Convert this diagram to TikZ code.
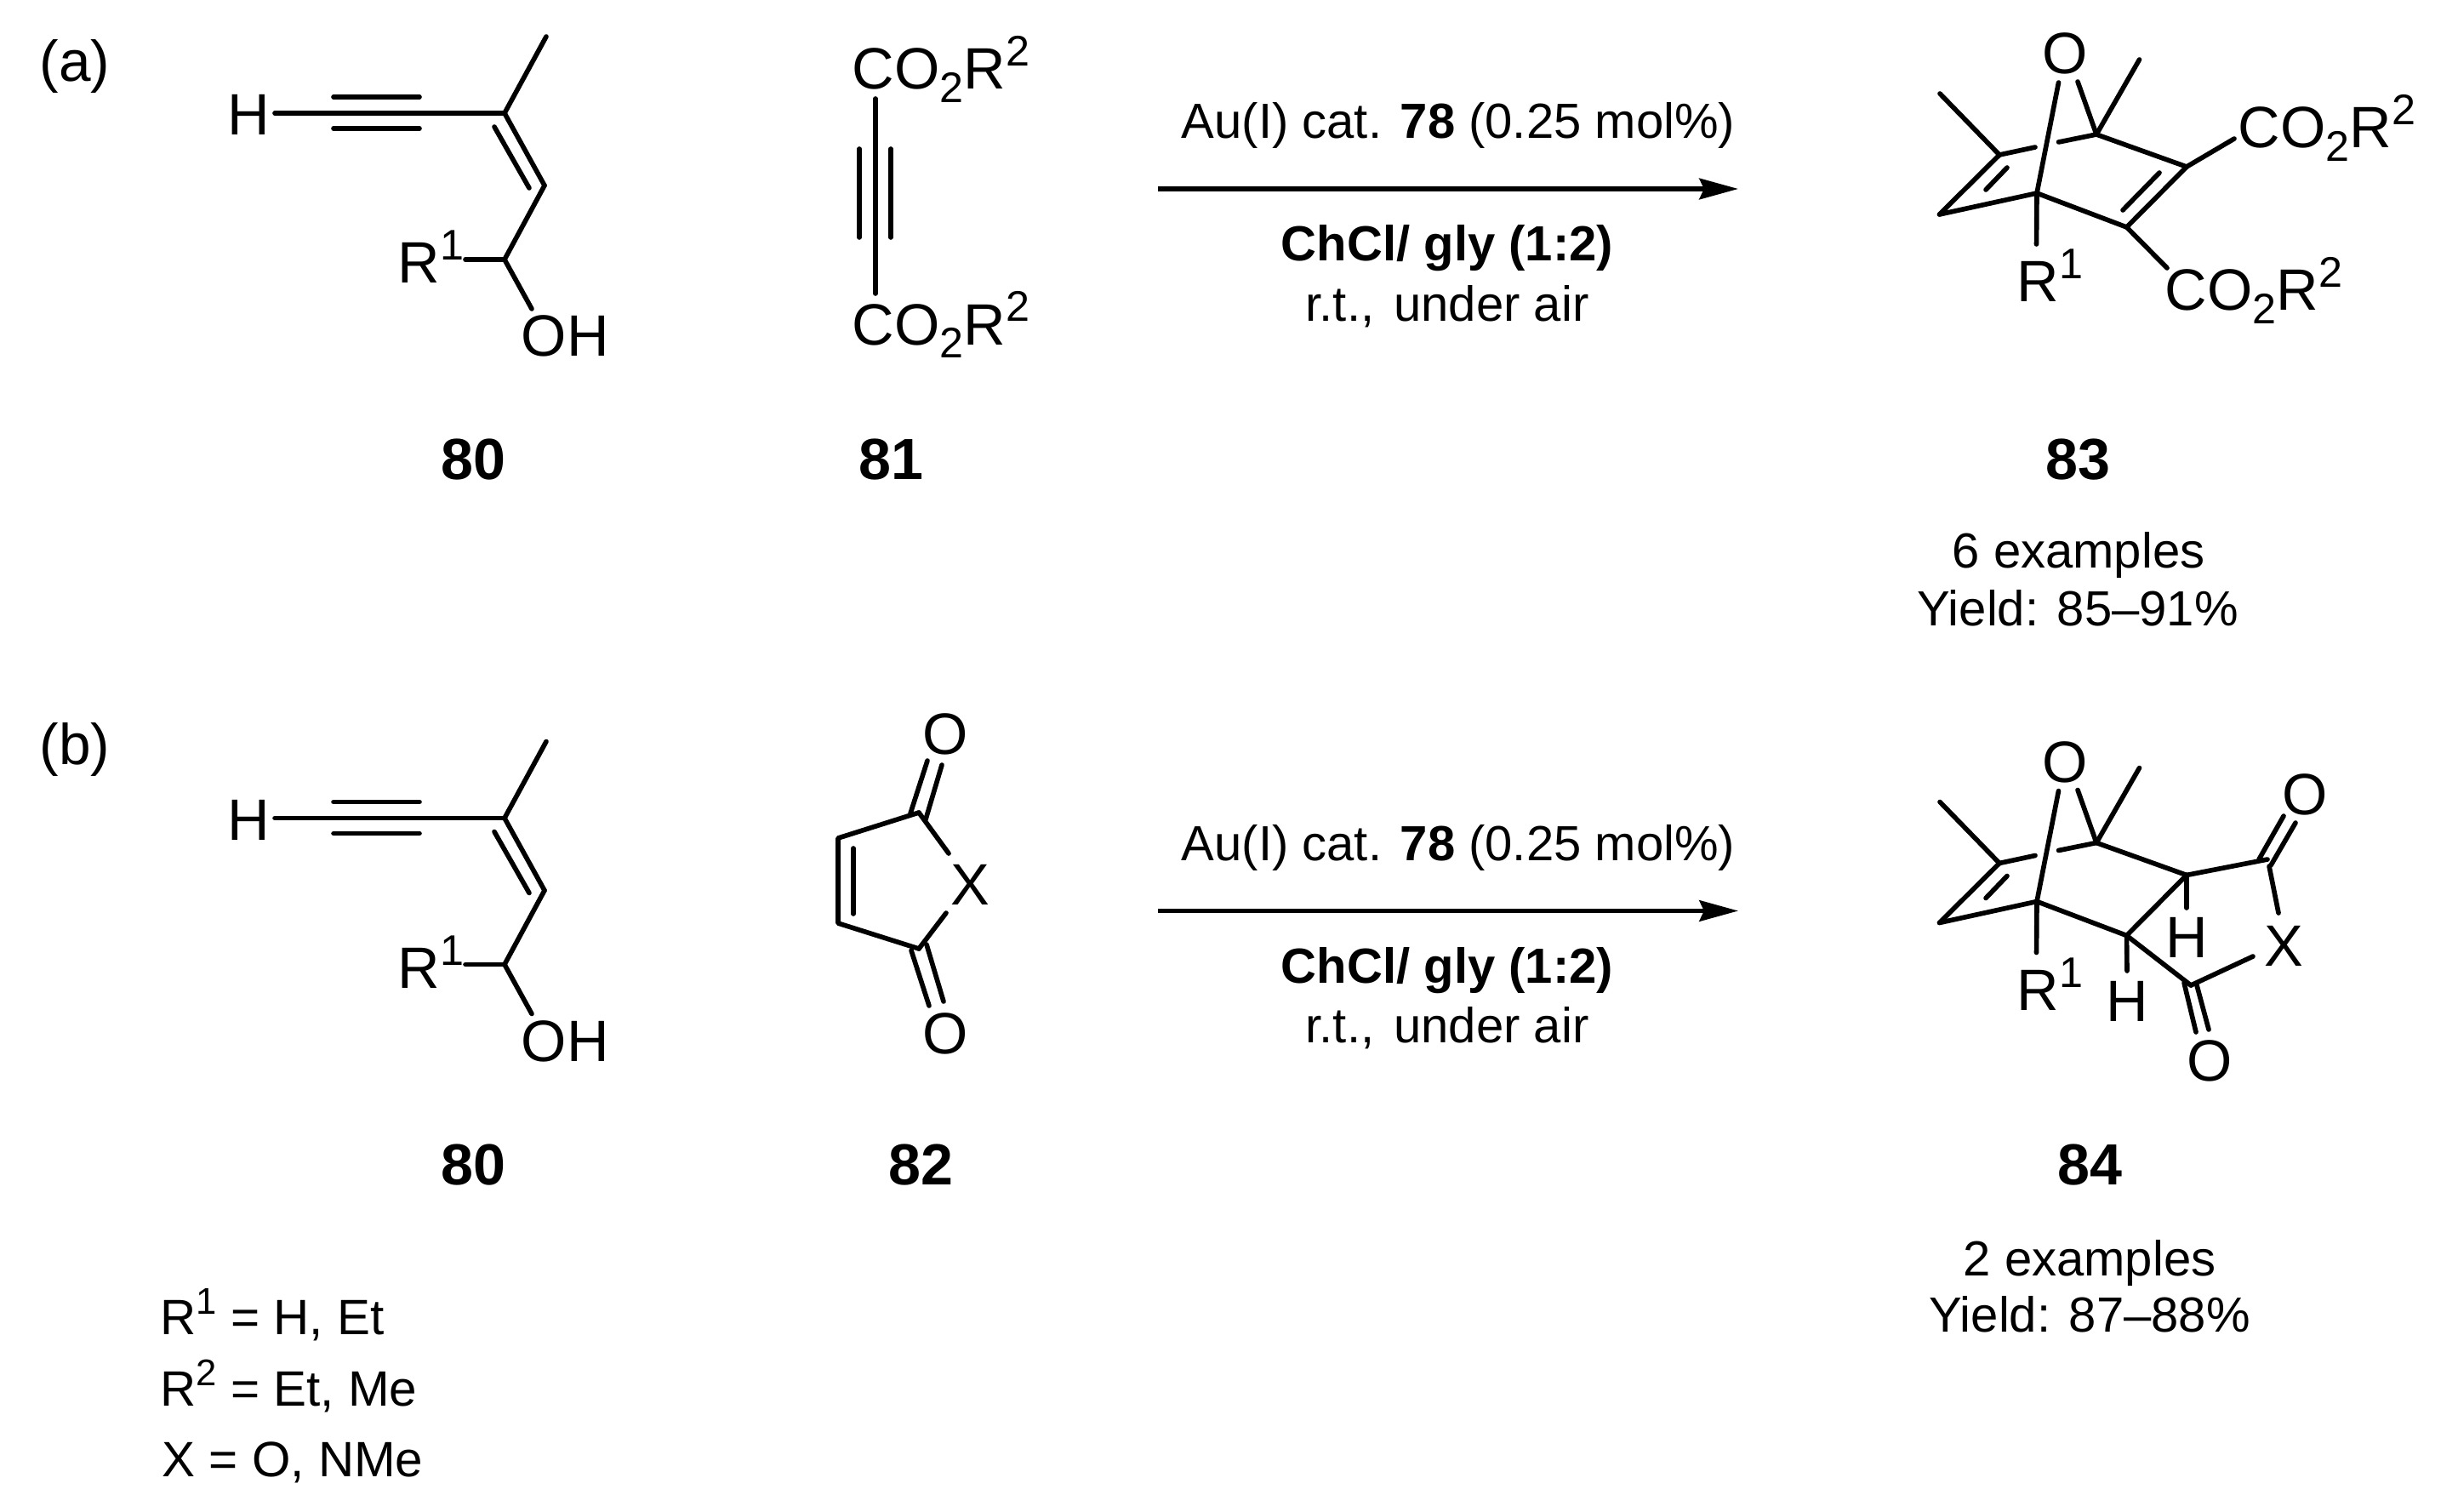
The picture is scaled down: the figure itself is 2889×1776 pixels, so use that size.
\documentclass[tikz,border=0pt]{standalone}
\usepackage{fontspec}
\setmainfont{Liberation Sans}
\usetikzlibrary{arrows.meta}
\newcommand{\csub}{\raisebox{-4.3pt}{\fontsize{14.3}{14}\selectfont 2}}
\newcommand{\csup}[1]{\raisebox{7.7pt}{\fontsize{14.3}{14}\selectfont #1}}
\newcommand{\lsup}[1]{\raisebox{6.6pt}{\fontsize{12.4}{12}\selectfont #1}}
\tikzset{
  bond/.style={line width=1.6pt,line cap=round,line join=round,black},
  rxnarrow/.style={line width=1.5pt,black,-{Stealth[length=13pt,width=7pt,inset=1.6pt]}},
  atom/.style={font=\fontsize{19.5}{23}\selectfont,inner sep=0pt,anchor=base west},
  atomc/.style={atom,anchor=base},
  cond/.style={font=\fontsize{16.5}{20}\selectfont,inner sep=0pt,anchor=base},
  legend/.style={font=\fontsize{16.6}{20}\selectfont,inner sep=0pt,anchor=base west},
  lbl/.style={font=\fontsize{19.4}{24}\selectfont\bfseries,inner sep=0pt,anchor=base},
  panel/.style={font=\fontsize{19.2}{22}\selectfont,inner sep=0pt,anchor=base west}
}
% the enyne alcohol 80; #1 name prefix, #2 vertical shift
\newcommand{\enyne}[2]{%
\begin{scope}[yshift=#2]
  \node[atomc] (#1H) at (292,159) {H};
  \node[atom] (#1Rone) at (467,333) {R\csup{1}};
  \node[atom] (#1OH) at (612,419) {OH};
  \coordinate (#1a) at (323,133);
  \coordinate (#1b) at (593,133);
  \coordinate (#1me) at (642,43);
  \coordinate (#1c) at (640,218);
  \coordinate (#1d) at (593,305);
  \coordinate (#1r) at (547,305);
  \coordinate (#1o) at (625,363);
  \coordinate (#1t1) at (392,114);
  \coordinate (#1t2) at (493,114);
  \coordinate (#1t3) at (392,151);
  \coordinate (#1t4) at (493,151);
  \coordinate (#1i1) at (581,149);
  \coordinate (#1i2) at (622,221);
  \draw[bond] (#1a) -- (#1b);
  \draw[bond] (#1t1) -- (#1t2);
  \draw[bond] (#1t3) -- (#1t4);
  \draw[bond] (#1b) -- (#1me);
  \draw[bond] (#1b) -- (#1c);
  \draw[bond] (#1i1) -- (#1i2);
  \draw[bond] (#1c) -- (#1d);
  \draw[bond] (#1d) -- (#1r);
  \draw[bond] (#1d) -- (#1o);
\end{scope}}
% the oxa-bicycle fragment shared by 83 and 84; #1 prefix, #2 shift
\newcommand{\bicycle}[2]{%
\begin{scope}[yshift=#2]
  \node[atomc] (#1O) at (2427,87) {O};
  \node[atom] (#1Rone) at (2370,355) {R\csup{1}};
  \coordinate (#1A) at (2464,158);
  \coordinate (#1me1) at (2514.5,70);
  \coordinate (#1oa) at (2442,96);
  \coordinate (#1ob) at (2419.5,97);
  \coordinate (#1B) at (2394,227);
  \coordinate (#1rb) at (2393.5,287);
  \coordinate (#1C) at (2350,182);
  \coordinate (#1me2) at (2280,110);
  \coordinate (#1g1) at (2392,173);
  \coordinate (#1g2) at (2419.5,167);
  \coordinate (#1D) at (2279.5,252);
  \coordinate (#1i1) at (2359,197);
  \coordinate (#1i2) at (2334,223);
  \coordinate (#1E) at (2570,196);
  \coordinate (#1F) at (2499.5,267);
  \draw[bond] (#1A) -- (#1me1);
  \draw[bond] (#1A) -- (#1oa);
  \draw[bond] (#1B) -- (#1ob);
  \draw[bond] (#1B) -- (#1rb);
  \draw[bond] (#1C) -- (#1me2);
  \draw[bond] (#1C) -- (#1g1);
  \draw[bond] (#1g2) -- (#1A);
  \draw[bond] (#1C) -- (#1D);
  \draw[bond] (#1D) -- (#1B);
  \draw[bond] (#1i1) -- (#1i2);
  \draw[bond] (#1A) -- (#1E);
  \draw[bond] (#1B) -- (#1F);
  \draw[bond] (#1E) -- (#1F);
\end{scope}}
% arrow and conditions; #1 prefix, #2 shift
\newcommand{\conditions}[2]{%
\begin{scope}[yshift=#2]
  \coordinate (#1s) at (1361,222);
  \coordinate (#1e) at (2043,222);
  \draw[rxnarrow] (#1s) -- (#1e);
  \node[cond] (#1top) at (1714,163) {Au(I) cat. \textbf{78} (0.25 mol\%)};
  \node[cond] (#1mid) at (1701,307) {\textbf{ChCl/ gly (1:2)}};
  \node[cond] (#1bot) at (1701,377) {r.t.,\kern2pt{} under air};
\end{scope}}
\begin{document}
\begin{tikzpicture}[x=0.01cm,y=-0.01cm]
\path[use as bounding box,fill=white] (0,0) rectangle (2889,1776);
\node[panel] (pa) at (46,96) {(a)};
\node[panel] (pb) at (46,898) {(b)};
\enyne{pa}{0cm}
\enyne{pb}{-8.28cm}
% 81
\node[atom] (co1) at (1001,105) {CO\csub R\csup{2}};
\node[atom] (co2) at (1001,405) {CO\csub R\csup{2}};
\coordinate (y1) at (1029,116);
\coordinate (y2) at (1029,345);
\coordinate (y3) at (1010,175);
\coordinate (y4) at (1010,279);
\coordinate (y5) at (1047,175);
\coordinate (y6) at (1047,279);
\draw[bond] (y1) -- (y2);
\draw[bond] (y3) -- (y4);
\draw[bond] (y5) -- (y6);
% 82
\node[atomc] (mo1) at (1111,886) {O};
\node[atomc] (mo2) at (1111,1238) {O};
\node[atomc] (mx) at (1140,1063) {X};
\coordinate (p1) at (1080,955);
\coordinate (p2) at (985,985);
\coordinate (p3) at (985,1085);
\coordinate (p4) at (1080,1115);
\coordinate (q1) at (1003,997);
\coordinate (q2) at (1003,1074);
\coordinate (x1) at (1115,1003);
\coordinate (x2) at (1112,1073);
\coordinate (u1) at (1070,956);
\coordinate (u2) at (1090,894);
\coordinate (u3) at (1088,963);
\coordinate (u4) at (1107,899);
\coordinate (v1) at (1071,1117);
\coordinate (v2) at (1092,1182);
\coordinate (v3) at (1089,1110);
\coordinate (v4) at (1109,1177);
\draw[bond] (p1) -- (p2) -- (p3) -- (p4);
\draw[bond] (q1) -- (q2);
\draw[bond] (p1) -- (x1);
\draw[bond] (p4) -- (x2);
\draw[bond] (u1) -- (u2);
\draw[bond] (u3) -- (u4);
\draw[bond] (v1) -- (v2);
\draw[bond] (v3) -- (v4);
% conditions
\conditions{ra}{0cm}
\conditions{rb}{-8.48cm}
% 83
\bicycle{pr}{0cm}
\node[atom] (pco1) at (2630,174) {CO\csub R\csup{2}};
\node[atom] (pco2) at (2544,365) {CO\csub R\csup{2}};
\coordinate (e1) at (2626,163);
\coordinate (f1) at (2547,315);
\coordinate (d1) at (2538,203);
\coordinate (d2) at (2495,247);
\draw[bond] (prE) -- (e1);
\draw[bond] (prF) -- (f1);
\draw[bond] (d1) -- (d2);
% 84
\bicycle{ps}{-8.32cm}
\node[atomc] (sH1) at (2570,1125) {H};
\node[atomc] (sH2) at (2500,1200) {H};
\node[atomc] (sO1) at (2709,957) {O};
\node[atomc] (sO2) at (2597,1270) {O};
\node[atomc] (sX) at (2684,1135) {X};
\coordinate (G) at (2665,1010);
\coordinate (I) at (2575,1158);
\coordinate (h1) at (2570,1067);
\coordinate (h2) at (2500,1141);
\coordinate (g1) at (2655,1010);
\coordinate (g2) at (2684,959);
\coordinate (g3) at (2669,1017);
\coordinate (g4) at (2698,967);
\coordinate (g5) at (2667,1018);
\coordinate (g6) at (2678,1073);
\coordinate (i1) at (2648,1124);
\coordinate (i2) at (2567,1155);
\coordinate (i3) at (2581,1213);
\coordinate (i4) at (2582,1158);
\coordinate (i5) at (2596,1210);
\draw[bond] (psE) -- (G);
\draw[bond] (psE) -- (h1);
\draw[bond] (psF) -- (h2);
\draw[bond] (g1) -- (g2);
\draw[bond] (g3) -- (g4);
\draw[bond] (g5) -- (g6);
\draw[bond] (psF) -- (I);
\draw[bond] (I) -- (i1);
\draw[bond] (i2) -- (i3);
\draw[bond] (i4) -- (i5);
% compound labels
\node[lbl] (l80a) at (556,563) {80};
\node[lbl] (l81) at (1047,563) {81};
\node[lbl] (l83) at (2442,563) {83};
\node[lbl] (l80b) at (556,1392) {80};
\node[lbl] (l82) at (1082,1392) {82};
\node[lbl] (l84) at (2456,1392) {84};
% yields
\node[cond] (ya1) at (2443,667) {6 examples};
\node[cond] (ya2) at (2442,735) {Yield: 85--91\%};
\node[cond] (yb1) at (2456,1499) {2 examples};
\node[cond] (yb2) at (2456,1565) {Yield: 87--88\%};
% legend
\node[legend] (k1) at (188,1568) {R\lsup{1} = H, Et};
\node[legend] (k2) at (188,1652) {R\lsup{2} = Et, Me};
\node[legend] (k3) at (190,1735) {X = O, NMe};
\end{tikzpicture}
\end{document}
